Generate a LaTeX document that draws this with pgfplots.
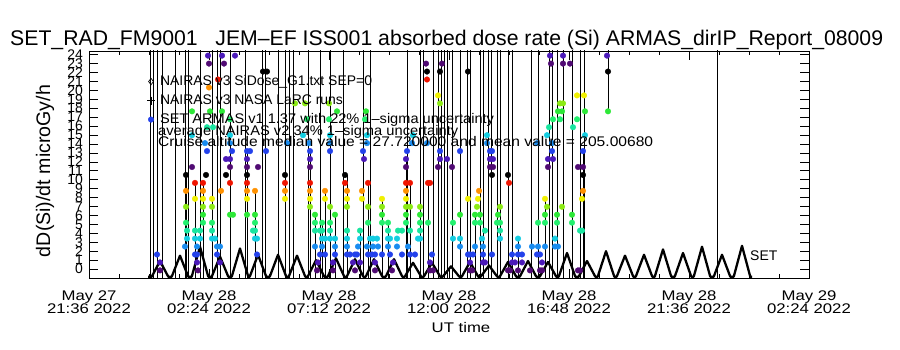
\documentclass[border=0pt]{standalone}
\usepackage{fontspec}
\setmainfont{Liberation Sans}
\newfontfamily\widefont[FakeStretch=1.2]{Liberation Sans}
\usepackage{graphicx}
\usepackage{pgfplots}
\pgfplotsset{compat=1.18}
\definecolor{c0}{RGB}{80,10,115}
\definecolor{c1}{RGB}{75,25,185}
\definecolor{c2}{RGB}{35,65,235}
\definecolor{c3}{RGB}{25,140,240}
\definecolor{c4}{RGB}{20,205,225}
\definecolor{c5}{RGB}{25,230,160}
\definecolor{c6}{RGB}{35,240,110}
\definecolor{c7}{RGB}{45,232,55}
\definecolor{c8}{RGB}{140,235,20}
\definecolor{c9}{RGB}{240,240,0}
\definecolor{c10}{RGB}{255,145,0}
\definecolor{c11}{RGB}{240,20,0}
\definecolor{c12}{RGB}{0,0,0}
\pgfplotsset{dot/.style={only marks, mark=*, mark size=2.8bp, color=#1, forget plot}}
\begin{document}
\begin{tikzpicture}
\path[use as bounding box] (0bp,0bp) rectangle (900bp,350bp);
\begin{axis}[
  at={(89bp,72bp)}, anchor=south west, scale only axis,
  width=720bp, height=227bp,
  xmin=21.6, xmax=50.4, ymin=-1, ymax=24.4,
  xtick={21.6,26.4,31.2,36.0,40.8,45.6,50.4},
  xticklabels={{May 27\\21:36 2022},{May 28\\02:24 2022},{May 28\\07:12 2022},{May 28\\12:00 2022},{May 28\\16:48 2022},{May 28\\21:36 2022},{May 29\\02:24 2022}},
  minor x tick num=3,
  ytick={0,1,...,24},
  tick align=inside,
  major tick length=9bp, minor tick length=4bp,
  tick style={black, line width=0.6pt},
  axis line style={line width=0.7pt},
  xticklabel style={align=center, font=\widefont\fontsize{14}{13}\selectfont, inner sep=0pt, yshift=-13bp},
  yticklabel style={font=\fontsize{14}{14}\selectfont, inner sep=0pt, xshift=-6bp},
  /pgf/number format/assume math mode=true,
  unbounded coords=jump, filter discard warning=false,
  legend image code/.code={\draw[#1] plot coordinates {(0bp,0bp)};},
  legend style={at={(axis description cs:0.0806,0.894)}, anchor=north west, draw=none, fill=none,
     inner sep=0pt, outer sep=0pt, font=\fontsize{14}{14}\selectfont, row sep=6bp, column sep=5bp,
     nodes={inner sep=0pt, text height=10bp, text depth=3bp}},
  legend cell align=left,
]
% vertical connecting lines of the ARMAS / NAIRAS runs
\addplot[black, line width=0.6pt, forget plot] table[row sep=\\] {
x y\\
24.04 -1\\ 24.04 30\\ nan nan\\
24.16 -1\\ 24.16 30\\ nan nan\\
24.32 -1\\ 24.32 30\\ nan nan\\
24.52 -1\\ 24.52 30\\ nan nan\\
25.04 -1\\ 25.04 30\\ nan nan\\
25.44 -1\\ 25.44 30\\ nan nan\\
25.56 -1\\ 25.56 30\\ nan nan\\
26.04 -1\\ 26.04 30\\ nan nan\\
26.52 -1\\ 26.52 30\\ nan nan\\
26.72 -1\\ 26.72 30\\ nan nan\\
26.84 -1\\ 26.84 30\\ nan nan\\
27.24 -1\\ 27.24 30\\ nan nan\\
27.84 -1\\ 27.84 30\\ nan nan\\
28.52 -1\\ 28.52 30\\ nan nan\\
28.64 -1\\ 28.64 30\\ nan nan\\
29.16 -1\\ 29.16 30\\ nan nan\\
29.44 -1\\ 29.44 30\\ nan nan\\
29.60 -1\\ 29.60 30\\ nan nan\\
29.76 -1\\ 29.76 30\\ nan nan\\
30.36 -1\\ 30.36 30\\ nan nan\\
30.84 -1\\ 30.84 30\\ nan nan\\
31.24 -1\\ 31.24 30\\ nan nan\\
31.76 -1\\ 31.76 30\\ nan nan\\
32.56 -1\\ 32.56 30\\ nan nan\\
32.84 -1\\ 32.84 30\\ nan nan\\
34.32 -1\\ 34.32 30\\ nan nan\\
34.84 -1\\ 34.84 30\\ nan nan\\
34.96 -1\\ 34.96 30\\ nan nan\\
35.36 -1\\ 35.36 30\\ nan nan\\
35.56 -1\\ 35.56 30\\ nan nan\\
35.68 -1\\ 35.68 30\\ nan nan\\
35.80 -1\\ 35.80 30\\ nan nan\\
35.92 -1\\ 35.92 30\\ nan nan\\
36.12 -1\\ 36.12 30\\ nan nan\\
36.44 -1\\ 36.44 30\\ nan nan\\
36.72 -1\\ 36.72 30\\ nan nan\\
36.84 -1\\ 36.84 30\\ nan nan\\
37.24 -1\\ 37.24 30\\ nan nan\\
37.36 -1\\ 37.36 30\\ nan nan\\
37.56 -1\\ 37.56 30\\ nan nan\\
37.68 -1\\ 37.68 30\\ nan nan\\
37.92 -1\\ 37.92 30\\ nan nan\\
38.04 -1\\ 38.04 30\\ nan nan\\
38.36 -1\\ 38.36 30\\ nan nan\\
38.52 -1\\ 38.52 30\\ nan nan\\
39.28 -1\\ 39.28 30\\ nan nan\\
39.56 -1\\ 39.56 30\\ nan nan\\
40.00 -1\\ 40.00 30\\ nan nan\\
40.12 -1\\ 40.12 30\\ nan nan\\
40.32 -1\\ 40.32 30\\ nan nan\\
40.56 -1\\ 40.56 30\\ nan nan\\
40.92 -1\\ 40.92 30\\ nan nan\\
41.24 -1\\ 41.24 30\\ nan nan\\
41.40 -1\\ 41.40 30\\ nan nan\\
46.72 -1\\ 46.72 30\\ nan nan\\
25.48 -1\\ 25.48 10.53\\ nan nan\\
25.84 -1\\ 25.84 9.64\\ nan nan\\
26.16 -1\\ 26.16 9.64\\ nan nan\\
27.92 -1\\ 27.92 13.20\\ nan nan\\
28.24 -1\\ 28.24 8.75\\ nan nan\\
30.44 -1\\ 30.44 13.20\\ nan nan\\
30.64 -1\\ 30.64 6.08\\ nan nan\\
30.92 -1\\ 30.92 5.19\\ nan nan\\
31.04 -1\\ 31.04 8.75\\ nan nan\\
31.44 -1\\ 31.44 6.08\\ nan nan\\
31.92 -1\\ 31.92 10.53\\ nan nan\\
32.44 -1\\ 32.44 4.30\\ nan nan\\
32.76 -1\\ 32.76 9.64\\ nan nan\\
33.32 -1\\ 33.32 7.86\\ nan nan\\
33.56 -1\\ 33.56 5.19\\ nan nan\\
34.28 -1\\ 34.28 12.31\\ nan nan\\
34.44 -1\\ 34.44 9.64\\ nan nan\\
35.16 -1\\ 35.16 9.64\\ nan nan\\
37.04 -1\\ 37.04 6.08\\ nan nan\\
38.76 -1\\ 38.76 3.41\\ nan nan\\
39.84 -1\\ 39.84 7.86\\ nan nan\\
41.36 -1\\ 41.36 13.20\\ nan nan\\
42.36 17.65\\ 42.36 30\\
};
% NAIRAS v3 SiDose (SET) orbit profile
\addplot[black, line width=2.3pt, line join=round, forget plot] coordinates {
(23.96,-0.85) (24.11,-0.85) (24.44,0.9) (24.77,-0.85) (24.91,-0.85) (25.24,1.5) (25.57,-0.85)
(25.71,-0.85) (26.04,2.5) (26.37,-0.85) (26.51,-0.85) (26.84,1.4) (27.17,-0.85) (27.31,-0.85)
(27.64,2.3) (27.97,-0.85) (28.03,-0.85) (28.36,1.6) (28.69,-0.85) (28.83,-0.85) (29.16,1.6)
(29.49,-0.85) (29.59,-0.85) (29.92,1.5) (30.25,-0.85) (30.35,-0.85) (30.68,1.0) (31.01,-0.85)
(31.15,-0.85) (31.48,1.2) (31.81,-0.85) (31.91,-0.85) (32.24,1.1) (32.57,-0.85) (32.67,-0.85)
(33.00,1.1) (33.33,-0.85) (33.47,-0.85) (33.80,1.1) (34.13,-0.85) (34.23,-0.85) (34.56,0.7)
(34.89,-0.85) (34.99,-0.85) (35.32,0.7) (35.65,-0.85) (35.75,-0.85) (36.08,0.3) (36.41,-0.85)
(36.51,-0.85) (36.84,0.8) (37.17,-0.85) (37.27,-0.85) (37.60,0.4) (37.93,-0.85) (38.03,-0.85)
(38.36,0.8) (38.69,-0.85) (38.83,-0.85) (39.16,0.9) (39.49,-0.85) (39.63,-0.85) (39.96,0.8)
(40.29,-0.85) (40.39,-0.85) (40.72,1.8) (41.05,-0.85) (41.19,-0.85) (41.52,0.9) (41.85,-0.85)
(41.95,-0.85) (42.28,2.0) (42.61,-0.85) (42.71,-0.85) (43.04,1.5) (43.37,-0.85) (43.47,-0.85)
(43.80,1.6) (44.13,-0.85) (44.23,-0.85) (44.56,2.2) (44.89,-0.85) (45.03,-0.85) (45.36,1.8)
(45.69,-0.85) (45.79,-0.85) (46.12,2.5) (46.45,-0.85) (46.59,-0.85) (46.92,1.6) (47.25,-0.85)
(47.39,-0.85) (47.72,2.6) (48.05,-0.85) (48.12,-0.85)};
% ARMAS points, coloured by level
\addplot[dot=c0] coordinates {
(24.44,-0.15) (25.96,-0.15) (30.72,-0.15) (31.36,-0.15) (32.24,-0.15) (33.04,-0.15) (33.72,-0.15)
(35.24,-0.15) (35.36,-0.15) (36.84,-0.15) (36.92,-0.15) (38.36,-0.15) (38.44,-0.15) (38.76,-0.15)
(39.24,-0.15) (39.64,-0.15) (39.72,-0.15) (41.16,-0.15) (41.24,-0.15)
(25.72,11.42) (27.24,11.42) (27.92,11.42) (28.36,11.42) (30.44,11.42) (34.28,11.42) (35.56,11.42)
(36.12,11.42) (37.64,11.42) (37.76,11.42) (39.96,11.42) (41.16,11.42) (41.36,11.42)
(26.40,22.99) (27.00,22.99) (35.08,22.99) (35.72,22.99) (40.08,22.99) (40.56,22.99) (40.84,22.99)};
\addplot[dot=c1] coordinates {
(24.44,0.74) (25.92,0.74) (26.84,0.74) (30.76,0.74) (31.36,0.74) (32.16,0.74) (32.44,0.74)
(33.04,0.74) (33.76,0.74) (35.24,0.74) (36.84,0.74) (37.36,0.74) (37.44,0.74) (38.52,0.74)
(38.64,0.74) (38.92,0.74) (39.72,0.74)
(27.08,12.31) (27.24,12.31) (27.92,12.31) (30.44,12.31) (32.60,12.31) (34.28,12.31) (35.64,12.31)
(35.92,12.31) (37.64,12.31) (37.76,12.31) (39.96,12.31) (40.16,12.31)
(26.36,23.88) (26.92,23.88) (27.44,23.88) (40.04,23.88) (40.56,23.88) (42.32,23.88)};
\addplot[dot=c2] coordinates {
(24.32,1.63) (25.84,1.63) (25.92,1.63) (26.72,1.63) (28.32,1.63) (30.84,1.63) (31.04,1.63)
(31.44,1.63) (31.92,1.63) (32.04,1.63) (32.24,1.63) (32.32,1.63) (32.76,1.63) (32.92,1.63)
(33.04,1.63) (33.32,1.63) (33.64,1.63) (34.12,1.63) (34.44,1.63) (34.64,1.63) (35.32,1.63)
(36.76,1.63) (36.84,1.63) (36.96,1.63) (37.36,1.63) (37.72,1.63) (38.52,1.63) (38.76,1.63)
(38.92,1.63) (39.52,1.63) (39.64,1.63)
(26.32,13.20) (27.32,13.20) (27.92,13.20) (28.04,13.20) (28.68,13.20) (30.44,13.20) (31.24,13.20)
(32.56,13.20) (34.32,13.20) (35.64,13.20) (36.44,13.20) (37.64,13.20) (37.72,13.20) (40.12,13.20)
(41.36,13.20)};
\addplot[dot=c3] coordinates {
(25.44,2.52) (25.92,2.52) (26.72,2.52) (26.84,2.52) (30.64,2.52) (30.92,2.52) (31.44,2.52)
(31.92,2.52) (32.36,2.52) (32.72,2.52) (32.96,2.52) (33.16,2.52) (33.56,2.52) (33.92,2.52)
(34.36,2.52) (36.44,2.52) (37.04,2.52) (37.36,2.52) (38.76,2.52) (39.32,2.52) (39.56,2.52)
(39.84,2.52) (40.24,2.52) (40.36,2.52)
(26.24,14.09) (27.24,14.09) (29.52,14.09) (30.40,14.09) (31.24,14.09) (32.72,14.09) (34.52,14.09)
(35.12,14.09) (37.52,14.09) (39.52,14.09) (40.12,14.09)};
\addplot[dot=c4] coordinates {
(25.52,3.41) (25.84,3.41) (26.04,3.41) (26.52,3.41) (26.64,3.41) (28.24,3.41) (28.32,3.41)
(30.92,3.41) (31.04,3.41) (31.24,3.41) (31.44,3.41) (31.92,3.41) (32.44,3.41) (32.84,3.41)
(32.96,3.41) (33.12,3.41) (33.56,3.41) (33.64,3.41) (33.92,3.41) (34.76,3.41) (34.84,3.41)
(36.16,3.41) (36.44,3.41) (37.32,3.41) (38.04,3.41) (38.76,3.41) (40.24,3.41)
(25.72,14.98) (27.24,14.98) (30.16,14.98) (31.24,14.98) (32.72,14.98) (34.56,14.98) (37.52,14.98)
(39.92,14.98) (41.44,14.98)};
\addplot[dot=c5] coordinates {
(25.52,4.30) (25.84,4.30) (26.04,4.30) (26.52,4.30) (28.16,4.30) (28.24,4.30) (30.64,4.30)
(30.84,4.30) (30.92,4.30) (31.24,4.30) (31.92,4.30) (32.44,4.30) (33.56,4.30) (33.96,4.30)
(34.12,4.30) (34.44,4.30) (34.84,4.30) (37.44,4.30) (38.04,4.30) (41.24,4.30) (41.32,4.30)
(26.32,15.87) (26.56,15.87) (40.00,15.87) (40.96,15.87)};
\addplot[dot=c6] coordinates {
(25.48,5.19) (26.16,5.19) (26.52,5.19) (28.24,5.19) (30.64,5.19) (30.92,5.19) (31.24,5.19)
(32.76,5.19) (33.32,5.19) (33.56,5.19) (34.28,5.19) (34.84,5.19) (35.16,5.19) (36.16,5.19)
(37.04,5.19) (37.24,5.19) (37.92,5.19) (38.04,5.19) (39.56,5.19) (39.84,5.19) (40.32,5.19)
(40.92,5.19)
(27.24,16.76) (30.32,16.76) (31.20,16.76) (32.64,16.76) (40.16,16.76) (40.44,16.76) (41.12,16.76)};
\addplot[dot=c7] coordinates {
(26.16,6.08) (27.24,6.08) (27.36,6.08) (27.92,6.08) (28.24,6.08) (30.64,6.08) (31.44,6.08)
(33.32,6.08) (34.28,6.08) (34.84,6.08) (36.44,6.08) (37.04,6.08) (37.24,6.08) (37.96,6.08)
(39.84,6.08) (40.32,6.08) (40.92,6.08)
(25.72,17.65) (26.44,17.65) (26.92,17.65) (31.52,17.65) (32.68,17.65) (40.36,17.65) (40.52,17.65)
(41.44,17.65) (42.36,17.65)};
\addplot[dot=c8] coordinates {
(25.48,6.97) (26.16,6.97) (26.52,6.97) (30.44,6.97) (31.24,6.97) (31.92,6.97) (32.76,6.97)
(33.32,6.97) (34.28,6.97) (34.44,6.97) (34.84,6.97) (37.12,6.97) (38.04,6.97) (39.92,6.97)
(40.52,6.97)
(29.84,18.54) (30.24,18.54) (31.20,18.54) (35.64,18.54) (40.44,18.54) (40.56,18.54)};
\addplot[dot=c9] coordinates {
(25.84,7.86) (26.16,7.86) (26.52,7.86) (27.92,7.86) (29.44,7.86) (30.44,7.86) (31.04,7.86)
(31.92,7.86) (32.52,7.86) (33.32,7.86) (34.28,7.86) (36.76,7.86) (37.16,7.86) (39.84,7.86)
(41.32,7.86)
(35.56,19.43) (41.12,19.43) (41.40,19.43)};
\addplot[dot=c10] coordinates {
(25.48,8.75) (26.16,8.75) (26.88,8.75) (27.92,8.75) (28.24,8.75) (29.44,8.75) (30.44,8.75)
(31.04,8.75) (31.92,8.75) (32.52,8.75) (34.28,8.75) (37.20,8.75) (41.36,8.75)
(26.40,20.32)};
\addplot[dot=c11] coordinates {
(25.84,9.64) (26.16,9.64) (27.24,9.64) (27.92,9.64) (29.44,9.64) (30.44,9.64) (31.84,9.64)
(32.76,9.64) (34.28,9.64) (34.44,9.64) (35.16,9.64) (35.24,9.64) (38.40,9.64)
(26.76,21.21) (35.12,21.21)};
\addplot[dot=c12] coordinates {
(25.48,10.53) (26.28,10.53) (27.08,10.53) (27.92,10.53) (29.44,10.53) (31.84,10.53) (37.72,10.53)
(38.36,10.53) (41.36,10.53)
(28.56,22.10) (28.72,22.10) (35.12,22.10) (35.64,22.10) (36.76,22.10) (42.36,22.10)};
\addlegendimage{black, mark=diamond, mark size=3.2bp, line width=0.7pt}
\addlegendentry{NAIRAS v3 SiDose\_G1.txt SEP=0}
\addlegendimage{black, mark=+, mark size=4bp, mark options={line width=1.4pt, solid}}
\addlegendentry{NAIRAS v3 NASA LaRC runs}
\addlegendimage{c2, mark=*, mark size=2.8bp}
\addlegendentry{\resizebox{334bp}{\height}{SET ARMAS v1 1.37 with 22\% 1–sigma uncertainty}}
\end{axis}
\node[anchor=base west, inner sep=0pt] at (10bp,304bp)
  {\resizebox{873bp}{!}{\fontsize{20}{20}\selectfont SET\_RAD\_FM9001\ \ \ JEM–EF ISS001 absorbed dose rate (Si) ARMAS\_dirIP\_Report\_08009}};
\node[rotate=90, inner sep=0pt] at (45bp,179bp)
  {\resizebox{172bp}{!}{\fontsize{15}{15}\selectfont dD(Si)/dt microGy/h}};
\node[anchor=base west, inner sep=0pt, font=\fontsize{14}{14}\selectfont] at (158bp,214bp)
  {\resizebox{300bp}{\height}{average NAIRAS v2 34\% 1–sigma uncertainty}};
\node[anchor=base west, inner sep=0pt, font=\fontsize{14}{14}\selectfont] at (158bp,203bp)
  {\resizebox{495bp}{\height}{Cruise altitude median value = 27.720000 and mean value = 205.00680}};
\node[anchor=base west, inner sep=0pt, font=\fontsize{14}{14}\selectfont] at (750bp,89bp) {SET};
\node[anchor=base, inner sep=0pt, font=\widefont\fontsize{14}{14}\selectfont] at (461bp,18bp) {UT time};
\end{tikzpicture}
\end{document}
